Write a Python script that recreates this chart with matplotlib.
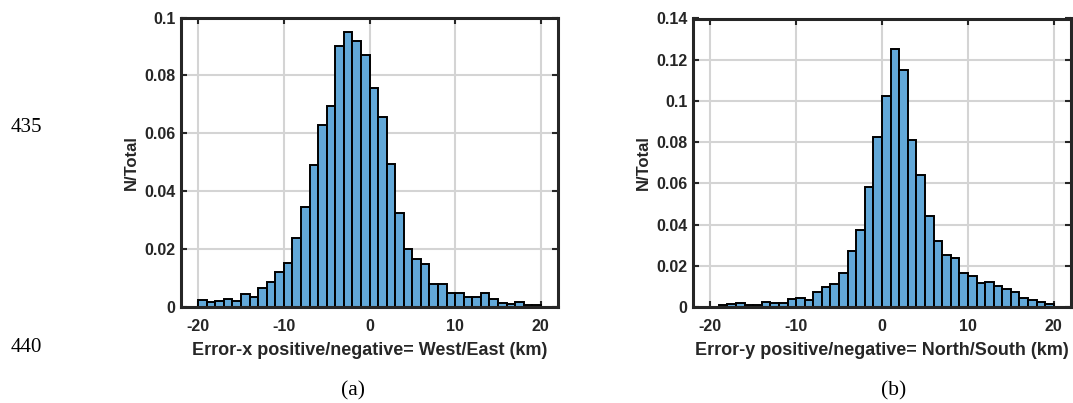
import numpy as np
import matplotlib
matplotlib.use("Agg")
import matplotlib.pyplot as plt

# bin edges (km) and normalised counts
edges = np.arange(-20, 21, 1)

frac_x = [0.0023, 0.0017, 0.0021, 0.0026, 0.0021, 0.0044, 0.0033, 0.0066, 0.0087, 0.0121,
          0.0151, 0.0237, 0.0347, 0.0492, 0.0630, 0.0695, 0.0902, 0.0949, 0.0919, 0.0872,
          0.0755, 0.0657, 0.0494, 0.0323, 0.0201, 0.0166, 0.0149, 0.0081, 0.0079, 0.0050,
          0.0050, 0.0036, 0.0036, 0.0048, 0.0027, 0.0013, 0.0009, 0.0017, 0.0006, 0.0008]

frac_y = [0.0002, 0.0008, 0.0013, 0.0021, 0.0011, 0.0010, 0.0023, 0.0021, 0.0021, 0.0037,
          0.0044, 0.0036, 0.0074, 0.0095, 0.0113, 0.0167, 0.0273, 0.0375, 0.0583, 0.0825,
          0.1024, 0.1254, 0.1149, 0.0812, 0.0639, 0.0440, 0.0320, 0.0251, 0.0238, 0.0165,
          0.0152, 0.0118, 0.0121, 0.0100, 0.0086, 0.0074, 0.0044, 0.0032, 0.0023, 0.0016]

xticks = [-20, -10, 0, 10, 20]
yticks_a = [0, 0.02, 0.04, 0.06, 0.08, 0.1]
ylabels_a = ["0", "0.02", "0.04", "0.06", "0.08", "0.1"]
yticks_b = [0, 0.02, 0.04, 0.06, 0.08, 0.1, 0.12, 0.14]
ylabels_b = ["0", "0.02", "0.04", "0.06", "0.08", "0.1", "0.12", "0.14"]

W, H = 1073, 403
fig = plt.figure(figsize=(W / 100, H / 100), dpi=100)
fig.patch.set_facecolor("white")

sans = "Liberation Sans"
serif = "Liberation Serif"


def hist_panel(box, vals, yt, yl, ymax, xlab):
    l, t, r, b = box
    ax = fig.add_axes([l / W, 1 - b / H, (r - l) / W, (b - t) / H])
    ax.bar(edges[:-1], vals, width=1, align="edge", color="#62a8d8",
           edgecolor="black", linewidth=1.4, zorder=2)
    ax.set_xlim(-22, 22)
    ax.set_ylim(0, ymax)
    ax.set_xticks(xticks)
    ax.set_xticklabels([str(v) for v in xticks], fontfamily=sans,
                       fontweight="bold", fontsize=11.5, color="#262626")
    ax.set_yticks(yt)
    ax.set_yticklabels(yl, fontfamily=sans, fontweight="bold",
                       fontsize=11.5, color="#262626")
    ax.tick_params(direction="in", length=4, width=1.5, color="#262626",
                   top=True, right=True)
    ax.tick_params(axis="x", pad=8.5)
    ax.tick_params(axis="y", pad=4)
    ax.grid(True, color="#d4d4d4", linewidth=1.5)
    ax.set_axisbelow(True)
    for s in ax.spines.values():
        s.set_linewidth(2.2)
        s.set_color("#262626")
    ax.set_xlabel(xlab, fontfamily=sans, fontweight="bold", fontsize=13,
                  color="#262626", labelpad=6)
    ax.set_ylabel("N/Total", fontfamily=sans, fontweight="bold", fontsize=12,
                  color="#262626", labelpad=4)
    return ax


hist_panel((181, 17.5, 558, 307), frac_x, yticks_a, ylabels_a, 0.1,
           "Error-x positive/negative= West/East (km)")
hist_panel((693, 18.5, 1071, 307), frac_y, yticks_b, ylabels_b, 0.14,
           "Error-y positive/negative= North/South (km)")

# captions and line numbers from the page
fig.text(353 / W, 1 - 391 / H, "(a)", fontfamily=serif, fontsize=15.5,
         ha="center", va="center")
fig.text(894 / W, 1 - 391 / H, "(b)", fontfamily=serif, fontsize=15.5,
         ha="center", va="center")
fig.text(11 / W, 1 - 127 / H, "435", fontfamily=serif, fontsize=15,
         ha="left", va="center")
fig.text(11 / W, 1 - 347 / H, "440", fontfamily=serif, fontsize=15,
         ha="left", va="center")

fig.savefig("out.png", dpi=100)
